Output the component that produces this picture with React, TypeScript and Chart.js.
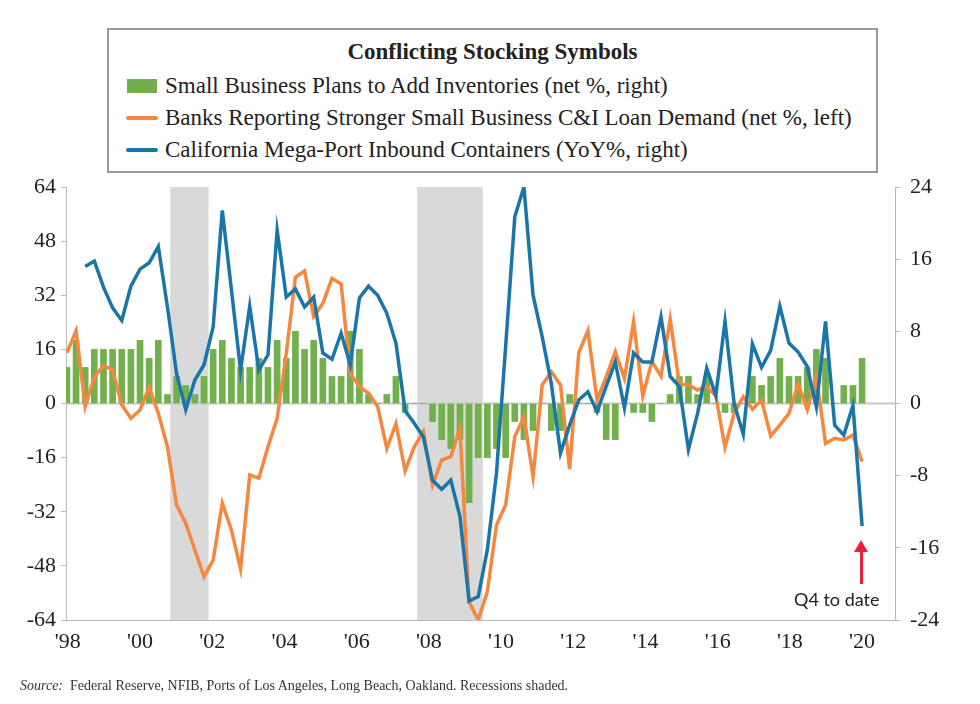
import React, { useEffect, useRef } from "react";
import { Chart, registerables } from "chart.js";
Chart.register(...registerables);

const tickLabels = ["'98", "'00", "'02", "'04", "'06", "'08", "'10", "'12", "'14", "'16", "'18", "'20"];
const tickPositions = [0.1, 8.0, 15.9, 23.8, 31.7, 39.6, 47.5, 55.4, 63.3, 71.2, 79.1, 87.0];
const recessions = [[11.3, 15.5], [38.3, 45.5]];

// quarterly from 1998Q1 (index 0) to 2019Q4 (index 87)
const inventories = [4, 7, 4, 6, 6, 6, 6, 6, 7, 5, 7, 1, 3, 2, 1, 3, 6, 7, 5, 4, 4, 5, 4, 7, 5, 8, 6, 7, 5, 3, 3, 8, 6, 1, 0, 1, 3, -1, 0, 0,
  -2, -4, -5, -4, -11, -6, -6, -5, -6, -2, -4, -3, 0, -3, -3, 1, 0, 0, -1, -4, -4, 0, -1, -1, -2, 0, 1, 3, 3, 1, 3, 0, -1, -1, 0, 3, 2, 3, 5, 3, 3, 4, 6, 5, 0, 2, 2, 5];
const loanDemand = [15.0, 21.5, -0.9, 7.9, 11.2, 9.9, -0.4, -4.4, -1.9, 4.8, -2.9, -12.8, -30.0, -35.4, -43.3, -51.2, -46.3, -29.5, -37.4, -49.0, -21.1, -22.1, -12.8, -4.4, 14.8, 37.3, 39.2, 25.7, 29.6, 37.0, 35.3, 8.9, 5.0, 3.0, -0.9, -13.3, -5.9, -19.9, -12.8, -8.3, -24.1, -16.7, -15.7, -7.3, -58.6, -64.0,
  -55.6, -35.9, -30.0, -9.8, -3.9, -21.6, 5.5, 9.4, 5.5, -19.4, 15.0, 21.5, 1.0, 7.9, 15.3, 7.4, 24.2, 2.2, 12.4, 8.1, 24.9, 5.8, 5.5, 4.0, 5.0, 2.2, -12.9, -2.9, 2.0, -1.7, 1.0, -9.6, -6.4, -2.9, 5.8, -1.9, 7.9, -11.8, -10.3, -10.8, -9.3, -17.2];
const containers = [null, null, 15.2, 15.8, 12.9, 10.6, 9.2, 13.0, 14.9, 15.6, 17.4, 10.7, 3.3, -0.7, 2.6, 4.3, 8.5, 21.4, 12.6, 3.7, 10.8, 3.7, 5.4, 19.2, 11.8, 12.7, 10.7, 11.8, 5.6, 4.9, 7.8, 4.3, 11.7, 13.0, 12.0, 10.0, 6.7, -0.8, -2.2, -3.7, -8.5, -9.5, -8.5, -12.5, -21.9, -21.4,
  -16.2, -7.7, 6.3, 20.7, 24.0, 12.0, 7.4, 2.2, -5.5, -2.4, 0.4, 1.3, -0.9, 1.9, 4.6, -0.5, 5.6, 4.6, 4.6, 9.6, 3.0, 1.9, -5.1, -1.1, 3.9, 0.9, 9.1, 0.0, -3.4, 6.6, 4.0, 5.9, 10.8, 6.7, 5.7, 4.1, -0.4, 9.1, -2.4, -3.5, -0.2, -13.6];

const serif = "'Palatino Linotype', 'Book Antiqua', 'Liberation Serif', serif";

export default function App() {
  const ref = useRef<HTMLCanvasElement>(null);
  useEffect(() => {
    const idx = inventories.map((_, i) => i);
    const shade = {
      id: "shade",
      beforeDatasetsDraw(chart: any) {
        const { ctx, chartArea, scales } = chart;
        ctx.save();
        ctx.fillStyle = "#d9d9d9";
        for (const [a, b] of recessions) {
          const x1 = scales.x.getPixelForValue(a), x2 = scales.x.getPixelForValue(b);
          ctx.fillRect(x1, chartArea.top, x2 - x1, chartArea.bottom - chartArea.top);
        }
        const y0 = scales.y.getPixelForValue(0);
        ctx.strokeStyle = "#c8c8c8";
        ctx.lineWidth = 2;
        ctx.beginPath();
        ctx.moveTo(chartArea.left, y0);
        ctx.lineTo(chartArea.right, y0);
        ctx.stroke();
        ctx.restore();
      },
      afterDraw(chart: any) {
        const { ctx, chartArea, scales } = chart;
        ctx.save();
        ctx.fillStyle = "#222";
        ctx.font = `22px ${serif}`;
        ctx.textAlign = "center";
        ctx.textBaseline = "top";
        tickPositions.forEach((v, i) => ctx.fillText(tickLabels[i], scales.x.getPixelForValue(v), chartArea.bottom + 11));
        ctx.restore();
      },
    };
    const chart = new Chart(ref.current!, {
      type: "bar",
      data: {
        datasets: [
          { type: "line", label: "California Mega-Port Inbound Containers (YoY%, right)", data: idx.map((i) => ({ x: i, y: containers[i] })), yAxisID: "y1", borderColor: "#1a75a8", borderWidth: 3.5, pointRadius: 0, spanGaps: false, order: 1 },
          { type: "line", label: "Banks Reporting Stronger Small Business C&I Loan Demand (net %, left)", data: idx.map((i) => ({ x: i, y: loanDemand[i] })), yAxisID: "y", borderColor: "#f5873f", borderWidth: 3.5, pointRadius: 0, order: 2 },
          { type: "bar", label: "Small Business Plans to Add Inventories (net %, right)", data: idx.map((i) => ({ x: i, y: inventories[i] })), yAxisID: "y1", backgroundColor: "#72b04d", barThickness: 6, order: 3 },
        ],
      },
      options: {
        animation: false,
        responsive: false,
        layout: { padding: { top: 187, bottom: 0, left: 0, right: 0 } },
        plugins: { legend: { display: false }, tooltip: { enabled: false } },
        scales: {
          x: {
            type: "linear", min: -0.1, max: 90.6, offset: false,
            afterBuildTicks: (s: any) => { s.ticks = tickPositions.map((v) => ({ value: v })); },
            afterFit: (s: any) => { s.height = 84; },
            ticks: { display: false },
            grid: { drawOnChartArea: false, drawTicks: false, color: "#bbb", offset: false },
            border: { color: "#bbb" },
          },
          y: {
            position: "left", min: -64, max: 64,
            afterBuildTicks: (s: any) => { s.ticks = [-64, -48, -32, -16, 0, 16, 32, 48, 64].map((v) => ({ value: v })); },
            afterFit: (s: any) => { s.width = 66; },
            ticks: { font: { family: serif, size: 22 }, color: "#222", padding: 5 },
            grid: { drawOnChartArea: false, tickLength: 5, color: "#bbb" },
            border: { color: "#bbb" },
          },
          y1: {
            position: "right", min: -24, max: 24,
            afterBuildTicks: (s: any) => { s.ticks = [-24, -16, -8, 0, 8, 16, 24].map((v) => ({ value: v })); },
            afterFit: (s: any) => { s.width = 85; },
            ticks: { font: { family: serif, size: 22 }, color: "#222", padding: 10 },
            grid: { drawOnChartArea: false, tickLength: 5, color: "#bbb" },
            border: { color: "#bbb" },
          },
        },
      },
      plugins: [shade],
    } as any);
    return () => chart.destroy();
  }, []);

  const legendRow = (swatch: React.ReactNode, text: string) => (
    <div style={{ display: "flex", alignItems: "center", height: 32 }}>
      <div style={{ width: 38, display: "flex", justifyContent: "center", marginLeft: 14 }}>{swatch}</div>
      <span style={{ marginLeft: 4 }}>{text}</span>
    </div>
  );
  const line = (c: string) => <div style={{ width: 32, height: 4, background: c, borderRadius: 2 }} />;

  return (
    <div style={{ position: "fixed", left: 0, top: 0, width: 980, height: 704, background: "#fff", fontFamily: serif }}>
      <canvas ref={ref} width={980} height={704} style={{ position: "absolute", left: 0, top: 0 }} />
      <div style={{ position: "absolute", left: 107, top: 28, width: 771, height: 145, border: "2px solid #999", background: "#fff", fontSize: 23, color: "#222", boxSizing: "border-box" }}>
        <div style={{ textAlign: "center", fontWeight: "bold", marginTop: 9, height: 31 }}>Conflicting Stocking Symbols</div>
        {legendRow(<div style={{ width: 30, height: 14, background: "#72b04d" }} />, "Small Business Plans to Add Inventories (net %, right)")}
        {legendRow(line("#f5873f"), "Banks Reporting Stronger Small Business C&I Loan Demand (net %, left)")}
        {legendRow(line("#1a75a8"), "California Mega-Port Inbound Containers (YoY%, right)")}
      </div>
      <div style={{ position: "absolute", left: 860, top: 548, width: 3, height: 36, background: "#e8203a" }} />
      <div style={{ position: "absolute", left: 854, top: 540, width: 0, height: 0, borderLeft: "7px solid transparent", borderRight: "7px solid transparent", borderBottom: "12px solid #e8203a" }} />
      <div style={{ position: "absolute", left: 794, top: 588, fontFamily: "Lato, 'Open Sans', sans-serif", fontSize: 18, color: "#222" }}>Q4 to date</div>
      <div style={{ position: "absolute", left: 20, top: 678, fontSize: 14, color: "#333" }}><i>Source:</i>&nbsp; Federal Reserve, NFIB, Ports of Los Angeles, Long Beach, Oakland. Recessions shaded.</div>
    </div>
  );
}
